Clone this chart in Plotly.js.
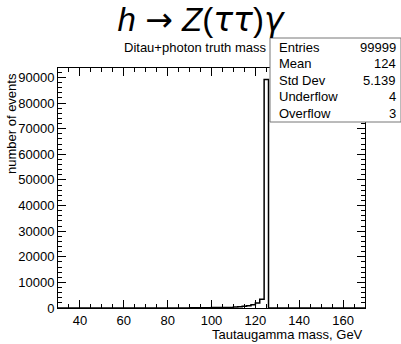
<!DOCTYPE html>
<html>
<head>
<meta charset="utf-8">
<script src="https://cdn.plot.ly/plotly-3.0.1.min.js"></script>
<style>
  html, body { margin: 0; padding: 0; background: #fff; }
  #plot { width: 401px; height: 344px; }
</style>
</head>
<body>
<div id="plot"></div>
<script>
// Ditau+photon truth mass histogram, 2 GeV bins over 30-170 GeV
const histRange = [30, 170];
const binWidth = 2;
const binLow = [88, 90, 92, 94, 96, 98, 100, 102, 104, 106, 108,
                110, 112, 114, 116, 118, 120, 122, 124];
const counts = [0, 100, 110, 120, 130, 140, 150, 160, 180, 200, 210,
                400, 500, 700, 900, 1300, 2000, 3400, 89200];

// Statistics box contents
const statLabels = ["Entries", "Mean", "Std Dev", "Underflow", "Overflow"];
const statValues = ["99999", "124", "5.139", "4", "3"];

// Axis ticks
const xTickVals = [40, 60, 80, 100, 120, 140, 160];
const yTickVals = [0, 10000, 20000, 30000, 40000, 50000, 60000, 70000, 80000, 90000];

// Build the outline of the step histogram from the bin edges
const xs = [histRange[0]];
const ys = [0];
for (let i = 0; i < binLow.length; i++) {
  xs.push(binLow[i]);
  ys.push(counts[i]);
}
xs.push(binLow[binLow.length - 1] + binWidth, histRange[1]);
ys.push(0, 0);

const yMax = Math.max(...counts) * 1.05;

// plot frame in pixels
const L = 58, R = 365, T = 68, B = 308;
const px = x => (x - L) / (R - L);
const py = y => (B - y) / (B - T);

const font = "Liberation Sans, Arial, Helvetica, sans-serif";
const greek = "DejaVu Sans, sans-serif";
const txt = {family: font, size: 13, color: "#000"};

const annotations = [];
annotations.push({
  text: "Ditau+photon truth mass", xref: "paper", yref: "paper",
  x: px(268), y: py(47), xanchor: "right", yanchor: "middle",
  showarrow: false, font: txt
});
statLabels.forEach((lab, i) => {
  const yy = py(47 + i * 16.5);
  annotations.push({
    text: lab, xref: "paper", yref: "paper", x: px(277), y: yy,
    xanchor: "left", yanchor: "middle", showarrow: false, font: txt
  });
  annotations.push({
    text: statValues[i], xref: "paper", yref: "paper", x: px(398), y: yy,
    xanchor: "right", yanchor: "middle", showarrow: false, font: txt
  });
});
annotations.push({
  text: "number of events", xref: "paper", yref: "paper",
  x: px(12), y: py(124), xanchor: "center", yanchor: "middle", textangle: -90,
  showarrow: false, font: txt
});
annotations.push({
  text: "Tautaugamma mass, GeV", xref: "paper", yref: "paper",
  x: 1, y: py(334), xanchor: "right", yanchor: "middle",
  showarrow: false, font: txt
});

const trace = {
  type: "scatter", mode: "lines", x: xs, y: ys,
  line: {shape: "hv", color: "#000", width: 1.5},
  hoverinfo: "skip"
};

const axisCommon = {
  showgrid: false, zeroline: false, showline: true, linecolor: "#000",
  linewidth: 1, mirror: "allticks", ticks: "inside", tickcolor: "#000",
  tickwidth: 1, ticklen: 8, tickfont: {family: font, size: 13, color: "#000"}
};

const g = s => `<span style="font-family:${greek}"><i>${s}</i></span>`;

const layout = {
  width: 401, height: 344,
  margin: {l: L, r: 401 - R, t: T, b: 344 - B},
  paper_bgcolor: "#fff", plot_bgcolor: "#fff",
  showlegend: false,
  title: {
    text: `<i>h</i> <span style="font-family:${greek}">→</span> <i>Z</i>(${g("ττ")})${g("γ")}`,
    xref: "container", x: 0.5, xanchor: "center",
    yref: "container", y: 1 - 19 / 344, yanchor: "middle",
    font: {family: font, size: 33, color: "#000"}
  },
  xaxis: Object.assign({}, axisCommon, {
    range: histRange, tickmode: "array", tickvals: xTickVals,
    minor: {dtick: 5, ticks: "inside", ticklen: 4, tickcolor: "#000"}
  }),
  yaxis: Object.assign({}, axisCommon, {
    range: [0, yMax], tickmode: "array", tickvals: yTickVals,
    ticktext: yTickVals.map(String),
    minor: {dtick: 2000, ticks: "inside", ticklen: 4, tickcolor: "#000"}
  }),
  shapes: [{
    type: "rect", xref: "paper", yref: "paper", layer: "above",
    x0: px(270), x1: px(401), y0: py(122), y1: py(38),
    fillcolor: "#fff", line: {color: "#777", width: 1}
  }],
  annotations: annotations
};

Plotly.newPlot("plot", [trace], layout, {staticPlot: true, displayModeBar: false});
</script>
</body>
</html>
